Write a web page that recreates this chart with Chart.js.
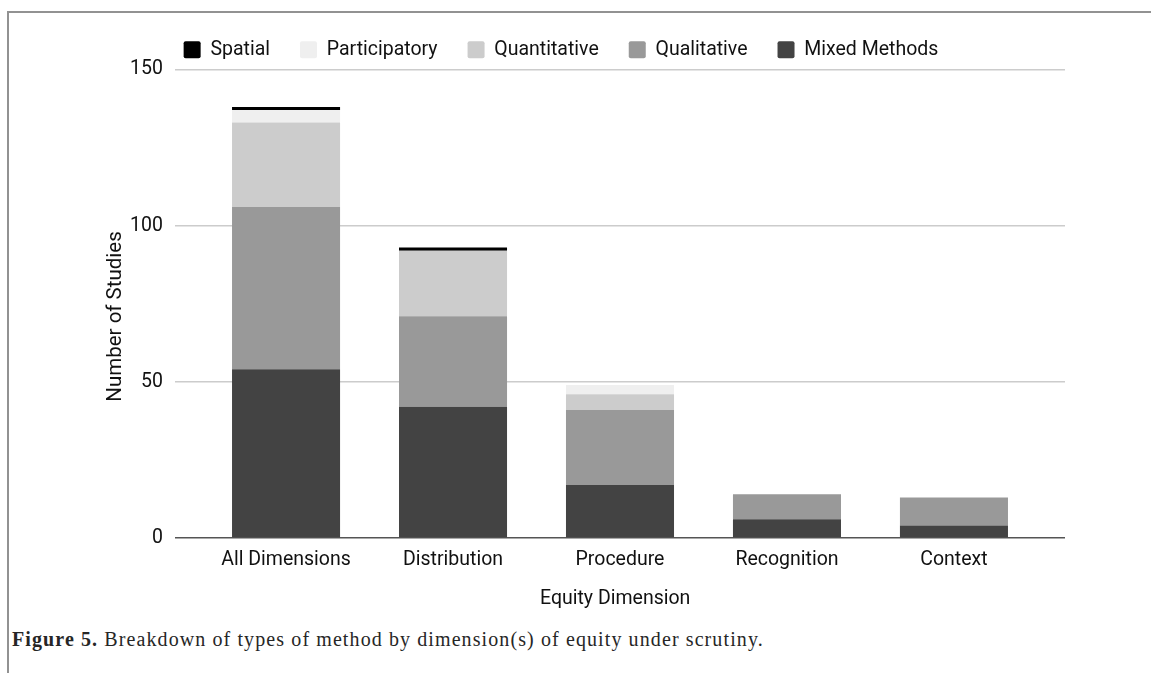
<!DOCTYPE html>
<html>
<head>
<meta charset="utf-8">
<script src="https://cdn.jsdelivr.net/npm/chart.js@4"></script>
<style>
  body { margin: 0; background: #fff; }
  #frame {
    position: absolute; left: 7px; top: 11px; width: 1144px; height: 662px;
    border-left: 2px solid #929292; border-top: 2px solid #929292;
  }
  #wrap { position: absolute; left: 10px; top: 14px; width: 1130px; height: 610px; }
  #caption {
    position: absolute; left: 12px; top: 628px; letter-spacing: 1.1px;
    font-family: "Liberation Serif", serif; font-size: 20px; color: #262626;
  }
  #caption b { font-weight: bold; }
</style>
</head>
<body>
<div id="frame"></div>
<div id="wrap"><canvas id="chart"></canvas></div>
<div id="caption"><b>Figure 5.</b> Breakdown of types of method by dimension(s) of equity under scrutiny.</div>
<script>
const categories = ["All Dimensions", "Distribution", "Procedure", "Recognition", "Context"]
const mixedMethods = [54, 42, 17, 6, 4]
const qualitative = [52, 29, 24, 8, 9]
const quantitative = [27, 21, 5, 0, 0]
const participatory = [4, 0, 3, 0, 0]
const spatial = [1, 1, 0, 0, 0]
const yTicks = [0, 50, 100, 150]

const font = { family: "Roboto", size: 19.5 }
const toPoints = (values) => values.map((y, x) => ({ x, y }))
const pad = (n) => "\u00a0".repeat(n) // trailing space nudges the axis titles off-centre like the original

// stacked bottom to top, legend is shown reversed
const series = [
  { label: "Mixed Methods", values: mixedMethods, color: "#434343" },
  { label: "Qualitative", values: qualitative, color: "#999999" },
  { label: "Quantitative", values: quantitative, color: "#cccccc" },
  { label: "Participatory", values: participatory, color: "#efefef" },
  { label: "Spatial", values: spatial, color: "#000000" },
]

new Chart(document.getElementById("chart"), {
  type: "bar",
  data: {
    datasets: series.map((s) => ({
      label: s.label,
      data: toPoints(s.values),
      backgroundColor: s.color,
      borderWidth: 0,
      barPercentage: 0.647,
      categoryPercentage: 1,
    })),
  },
  options: {
    responsive: true,
    maintainAspectRatio: false,
    animation: false,
    layout: { padding: { left: 47, right: 75, top: -4, bottom: 10 } },
    plugins: {
      tooltip: { enabled: false },
      legend: {
        reverse: true,
        labels: {
          font,
          color: "#111",
          boxWidth: 17,
          boxHeight: 17,
          padding: 30,
          useBorderRadius: true,
          borderRadius: 2,
        },
      },
    },
    scales: {
      x: {
        type: "linear",
        bounds: "data",
        offset: false,
        stacked: true,
        min: -0.665,
        max: categories.length - 1 + 0.665,
        afterBuildTicks: (scale) => { scale.ticks = categories.map((c, i) => ({ value: i })) },
        grid: { display: false },
        border: { display: false },
        ticks: {
          font,
          color: "#111",
          padding: 2,
          callback: (v) => categories[v],
        },
        title: { display: true, text: "Equity Dimension" + pad(2), font, color: "#111", padding: { bottom: 3 } },
        afterFit: (scale) => { scale.height = 76 },
      },
      y: {
        stacked: true,
        min: 0,
        max: 150,
        afterBuildTicks: (scale) => { scale.ticks = yTicks.map((value) => ({ value })) },
        grid: {
          drawTicks: false,
          lineWidth: 1.5,
          color: (ctx) => (ctx.tick && ctx.tick.value === 0 ? "#555" : "#cccccc"),
        },
        border: { display: false },
        ticks: { font, color: "#111", padding: 12 },
        title: {
          display: true,
          text: "Number of Studies" + pad(5),
          font: { family: "Roboto", size: 20.5 },
          color: "#111",
          padding: { top: 47 },
        },
        afterFit: (scale) => { scale.width = 118 },
      },
    },
  },
})
</script>
</body>
</html>
